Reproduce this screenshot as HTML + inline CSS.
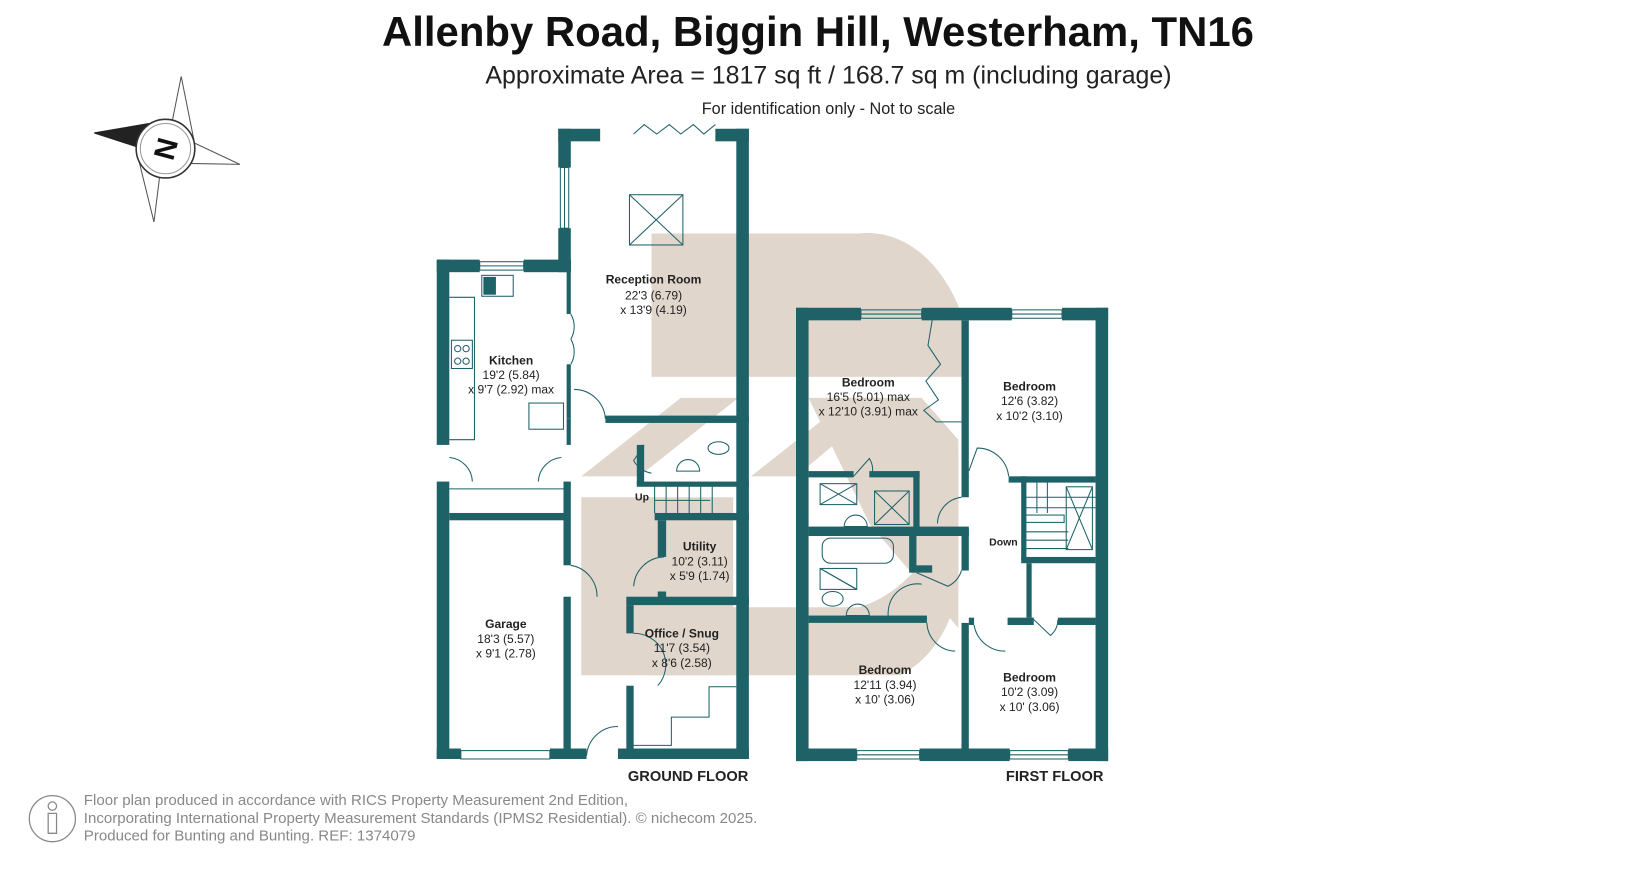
<!DOCTYPE html>
<html><head><meta charset="utf-8"><style>
html,body{margin:0;padding:0;background:#fff;}
svg{display:block;}
text{font-family:"Liberation Sans",Arial,sans-serif;fill:#222;}
</style></head><body>
<svg width="1636" height="871" viewBox="0 0 1562 832" preserveAspectRatio="none" xmlns="http://www.w3.org/2000/svg">
<rect width="1562" height="832" fill="#fff"/>
<!-- watermark -->
<g fill="#e0d6cc">
<path d="M622 223 H820 A100 140 0 0 1 918 300 L918 360 H622 Z"/>
<path d="M555 475 H700 V645 H555 Z"/>
<path d="M820 580 A120 160 0 0 0 915 420 L915 560 Q905 620 860 645 H620 V580 Z"/>
<path d="M555 455 L650 380 H705 L610 455 Z"/>
<path d="M717 455 L812 380 H850 L760 455 Z"/>
<path d="M772 380 L880 380 L915 420 L915 600 L830 500 Z"/>
</g>
<g fill="#1e6268">
<rect x="533" y="123" width="40" height="12"/>
<rect x="683" y="123" width="32" height="12"/>
<rect x="533" y="123" width="12" height="37"/>
<rect x="533" y="218" width="12" height="42"/>
<rect x="541" y="248" width="4" height="52"/>
<rect x="541" y="348" width="4" height="52"/>
<rect x="703" y="123" width="12" height="602"/>
<rect x="578" y="397" width="137" height="7"/>
<rect x="417" y="248" width="41" height="12"/>
<rect x="500" y="248" width="45" height="12"/>
<rect x="417" y="248" width="12" height="177"/>
<rect x="417" y="460" width="12" height="265"/>
<rect x="429" y="490" width="114" height="7"/>
<rect x="538" y="460" width="7" height="80"/>
<rect x="541" y="400" width="4" height="25"/>
<rect x="538" y="570" width="7" height="145"/>
<rect x="417" y="715" width="23" height="10"/>
<rect x="525" y="715" width="35" height="10"/>
<rect x="608" y="425" width="7" height="38"/>
<rect x="608" y="460" width="107" height="5"/>
<rect x="625" y="490" width="90" height="7"/>
<rect x="628" y="497" width="8" height="35"/>
<rect x="628" y="565" width="8" height="12"/>
<rect x="598" y="570" width="117" height="8"/>
<rect x="598" y="578" width="7" height="27"/>
<rect x="598" y="655" width="7" height="70"/>
<rect x="590" y="715" width="125" height="10"/>
<rect x="760" y="294" width="62" height="12"/>
<rect x="880" y="294" width="86" height="12"/>
<rect x="1014" y="294" width="44" height="12"/>
<rect x="760" y="294" width="12" height="433"/>
<rect x="1046" y="294" width="12" height="433"/>
<rect x="760" y="715" width="58" height="12"/>
<rect x="878" y="715" width="86" height="12"/>
<rect x="1020" y="715" width="38" height="12"/>
<rect x="918" y="306" width="7" height="150"/>
<rect x="963" y="455" width="83" height="6"/>
<rect x="918" y="455" width="7" height="20"/>
<rect x="918" y="505" width="7" height="40"/>
<rect x="772" y="450" width="43" height="6"/>
<rect x="830" y="450" width="48" height="6"/>
<rect x="872" y="450" width="6" height="55"/>
<rect x="772" y="503" width="153" height="9"/>
<rect x="868" y="512" width="7" height="35"/>
<rect x="875" y="540" width="15" height="7"/>
<rect x="772" y="588" width="113" height="7"/>
<rect x="918" y="595" width="7" height="120"/>
<rect x="925" y="590" width="5" height="7"/>
<rect x="962" y="590" width="25" height="7"/>
<rect x="1010" y="590" width="36" height="7"/>
<rect x="975" y="532" width="71" height="6"/>
<rect x="980" y="538" width="5" height="52"/>
<rect x="975" y="455" width="5" height="80"/>
</g>
<g fill="none" stroke="#1e6268" stroke-width="1">
<rect x="535" y="160" width="8" height="58"/><line x1="539" y1="160" x2="539" y2="218"/>
<rect x="458" y="250" width="42" height="8"/><line x1="458" y1="254" x2="500" y2="254"/>
<rect x="440" y="717" width="85" height="8"/>
<rect x="705" y="366" width="8" height="20"/><rect x="705" y="416" width="8" height="20"/>
<rect x="822" y="296" width="58" height="8"/><line x1="822" y1="300" x2="880" y2="300"/>
<rect x="966" y="296" width="48" height="8"/><line x1="966" y1="300" x2="1014" y2="300"/>
<rect x="818" y="717" width="60" height="8"/><line x1="818" y1="721" x2="878" y2="721"/>
<rect x="964" y="717" width="56" height="8"/><line x1="964" y1="721" x2="1020" y2="721"/>
<polyline points="605,128 615,119 627,128 639,119 650,128 662,119 672,128 683,119"/>
<rect x="601" y="186" width="51" height="48"/><line x1="601" y1="186" x2="652" y2="234"/><line x1="652" y1="186" x2="601" y2="234"/>
<polyline points="429,284 453,284 453,420 429,420"/>
<rect x="460" y="263" width="30" height="20"/><rect x="462" y="265" width="11" height="16" fill="#1e6268"/>
<rect x="431" y="325" width="20" height="27"/>
<circle cx="437" cy="333" r="3"/><circle cx="445" cy="333" r="3"/><circle cx="437" cy="345" r="3"/><circle cx="445" cy="345" r="3"/>
<rect x="505" y="385" width="33" height="25"/>
<line x1="429" y1="467" x2="538" y2="467"/>
<path d="M545 300 A24 24 0 0 1 545 324 M545 348 A24 24 0 0 0 545 324"/>
<path d="M548 372 A30 30 0 0 1 578 400"/>
<path d="M429 437 A24 24 0 0 1 451 460"/>
<path d="M536 437 A24 24 0 0 0 514 460"/>
<path d="M545 540 A30 30 0 0 1 570 570"/>
<path d="M634 532 A30 30 0 0 0 605 560"/>
<path d="M605 605 A30 30 0 0 1 628 655"/>
<path d="M560 722 A30 30 0 0 1 590 694"/>
<path d="M615 425 L605 440 A24 24 0 0 0 622 452"/>
<polyline points="603,712 641,712 641,685 677,685 677,656 703,656"/>
<ellipse cx="686" cy="428" rx="10" ry="6"/><path d="M646 450 A10 10 0 0 1 668 450 Z"/>
<g><line x1="625" y1="463" x2="625" y2="490"/><line x1="636" y1="463" x2="636" y2="490"/><line x1="647" y1="463" x2="647" y2="490"/><line x1="658" y1="463" x2="658" y2="490"/><line x1="669" y1="463" x2="669" y2="490"/><line x1="680" y1="463" x2="680" y2="490"/><line x1="625" y1="478" x2="678" y2="478"/></g>
<polyline points="890,306 886,330 898,348 884,364 896,382 882,392 894,403 918,403"/>
<path d="M815 455 L830 438 A20 20 0 0 1 832 455"/>
<rect x="783" y="462" width="35" height="20"/><line x1="783" y1="462" x2="818" y2="482"/><line x1="818" y1="462" x2="783" y2="482"/>
<rect x="835" y="469" width="33" height="32"/><line x1="835" y1="469" x2="868" y2="501"/><line x1="868" y1="469" x2="835" y2="501"/>
<path d="M806 503 A11 11 0 0 1 828 503 Z"/>
<path d="M918 475 A26 26 0 0 0 895 500"/>
<rect x="785" y="514" width="68" height="24" rx="8"/>
<rect x="783" y="543" width="35" height="20"/><line x1="783" y1="543" x2="818" y2="563"/><line x1="818" y1="563" x2="783" y2="543"/>
<ellipse cx="795" cy="572" rx="10" ry="7"/><path d="M808 588 A11 11 0 0 1 830 588 Z"/>
<path d="M875 547 L905 560 A25 25 0 0 0 918 545"/>
<path d="M880 558 A28 28 0 0 0 848 588"/>
<path d="M925 450 L933 428 A30 30 0 0 1 963 455"/>
<path d="M885 595 A28 28 0 0 0 912 622"/>
<path d="M930 597 A30 30 0 0 0 960 622"/>
<path d="M985 590 L1003 607 A20 20 0 0 0 1010 592"/>
<g><line x1="980" y1="475" x2="1046" y2="475"/><line x1="980" y1="485" x2="1046" y2="485"/><line x1="980" y1="508" x2="1020" y2="508"/><line x1="980" y1="516" x2="1020" y2="516"/><line x1="980" y1="524" x2="1020" y2="524"/><line x1="990" y1="460" x2="990" y2="490"/><line x1="1000" y1="460" x2="1000" y2="490"/><rect x="978" y="492" width="38" height="7"/><rect x="1018" y="465" width="25" height="60"/><line x1="1018" y1="465" x2="1043" y2="525"/><line x1="1043" y1="465" x2="1018" y2="525"/></g>
</g>
<!-- compass -->
<g stroke="#555" stroke-width="1" fill="#fff">
<polygon points="173,73 162,128 185,133"/>
<polygon points="147,212 154,156 132,151"/>
<polygon points="229,157 180,134 174,156"/>
<polygon points="90,127 142,118 136,142" fill="#222" stroke="#222"/>
<circle cx="158" cy="142" r="28" stroke="#333" stroke-width="1.5"/>
<circle cx="158" cy="142" r="24" stroke="#999"/>
</g>
<text x="158" y="152" font-size="28" font-weight="bold" text-anchor="middle" transform="rotate(-75 158 142)" style="fill:#111">N</text>
<text x="781" y="44" font-size="40" font-weight="bold" text-anchor="middle" style="fill:#111">Allenby Road, Biggin Hill, Westerham, TN16</text>
<text x="791" y="80" font-size="23.8" text-anchor="middle">Approximate Area = 1817 sq ft / 168.7 sq m (including garage)</text>
<text x="791" y="109" font-size="15.5" text-anchor="middle">For identification only - Not to scale</text>
<g font-size="11.5" text-anchor="middle">
<text x="624" y="271" font-weight="bold">Reception Room</text><text x="624" y="286">22'3 (6.79)</text><text x="624" y="300">x 13'9 (4.19)</text>
<text x="488" y="348" font-weight="bold">Kitchen</text><text x="488" y="362">19'2 (5.84)</text><text x="488" y="376">x 9'7 (2.92) max</text>
<text x="613" y="478" font-weight="bold" font-size="10">Up</text>
<text x="668" y="526" font-weight="bold">Utility</text><text x="668" y="540">10'2 (3.11)</text><text x="668" y="554">x 5'9 (1.74)</text>
<text x="483" y="600" font-weight="bold">Garage</text><text x="483" y="614">18'3 (5.57)</text><text x="483" y="628">x 9'1 (2.78)</text>
<text x="651" y="609" font-weight="bold">Office / Snug</text><text x="651" y="623">11'7 (3.54)</text><text x="651" y="637">x 8'6 (2.58)</text>
<text x="829" y="369" font-weight="bold">Bedroom</text><text x="829" y="383">16'5 (5.01) max</text><text x="829" y="397">x 12'10 (3.91) max</text>
<text x="983" y="373" font-weight="bold">Bedroom</text><text x="983" y="387">12'6 (3.82)</text><text x="983" y="401">x 10'2 (3.10)</text>
<text x="958" y="521" font-weight="bold" font-size="10">Down</text>
<text x="845" y="644" font-weight="bold">Bedroom</text><text x="845" y="658">12'11 (3.94)</text><text x="845" y="672">x 10' (3.06)</text>
<text x="983" y="651" font-weight="bold">Bedroom</text><text x="983" y="665">10'2 (3.09)</text><text x="983" y="679">x 10' (3.06)</text>
</g>
<text x="657" y="746" font-size="14" font-weight="bold" text-anchor="middle">GROUND FLOOR</text>
<text x="1007" y="746" font-size="14" font-weight="bold" text-anchor="middle">FIRST FLOOR</text>
<g stroke="#888" fill="none" stroke-width="1.2"><circle cx="50" cy="782" r="22"/><circle cx="50" cy="770" r="4"/><path d="M46 777 H54 V796 H46 Z"/></g>
<g font-size="14.4"><text x="80" y="769" style="fill:#888">Floor plan produced in accordance with RICS Property Measurement 2nd Edition,</text>
<text x="80" y="786" style="fill:#888">Incorporating International Property Measurement Standards (IPMS2 Residential).   © nichecom 2025.</text>
<text x="80" y="803" style="fill:#888">Produced for Bunting and Bunting.   REF:  1374079</text></g>
</svg>
</body></html>
